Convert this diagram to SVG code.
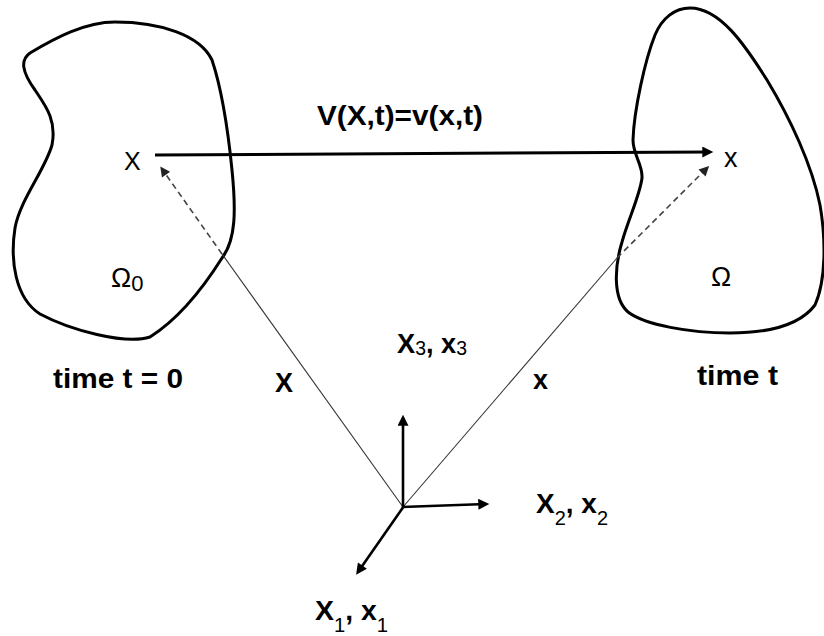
<svg xmlns="http://www.w3.org/2000/svg" width="824" height="636" viewBox="0 0 824 636">
<style>
.blob{fill:none;stroke:#000;stroke-width:3;stroke-linejoin:round}
.thin{fill:none;stroke:#333;stroke-width:1.1}
.dash{fill:none;stroke:#444;stroke-width:1.6;stroke-dasharray:6 4}
.axis{fill:none;stroke:#000;stroke-width:2.6}
.main{fill:none;stroke:#000;stroke-width:3}
.t{font-family:"Liberation Sans",Arial,sans-serif;fill:#000}
.b{font-weight:bold}
</style>
<defs>
<marker id="ah" viewBox="0 0 10 10" refX="7" refY="5" markerWidth="13" markerHeight="11" markerUnits="userSpaceOnUse" orient="auto">
<path d="M0,0 L10,5 L0,10 z" fill="#000"/>
</marker>
<marker id="ahd" viewBox="0 0 10 10" refX="7" refY="5" markerWidth="12" markerHeight="10" markerUnits="userSpaceOnUse" orient="auto">
<path d="M0,0 L10,5 L0,10 z" fill="#222"/>
</marker>
</defs>
<rect width="824" height="636" fill="#fff"/>

<g id="body0">
<path class="blob" d="M30,53 C55,38 85,22 115,22 C160,22 200,35 212,60 C222,90 228,130 232,170 C236,210 236,240 222,258 C205,285 180,318 150,337 C125,345 70,330 40,314 C15,298 10,260 15,228 C20,200 45,170 52,145 C57,120 45,105 35,90 C22,72 20,60 30,53 Z"/>
<text class="t" x="111" y="287" font-size="27">Ω<tspan font-size="22" dy="4">0</tspan></text>
</g>

<g id="body1">
<path class="blob" d="M690,8 C720,8 745,45 767,80 C790,118 812,165 820,205 C826,240 826,280 815,305 C800,325 770,333 730,333 C690,333 645,325 628,312 C612,298 615,265 622,242 C628,220 640,195 642,178 C643,165 633,155 633,140 C634,110 645,60 655,35 C662,18 675,8 690,8 Z"/>
<text class="t" x="711" y="286" font-size="27">Ω</text>
</g>

<g id="connectors">
<line class="main" x1="155" y1="155" x2="710" y2="152" marker-end="url(#ah)"/>
<line class="thin" x1="403" y1="507" x2="222" y2="254"/>
<line class="dash" x1="222" y1="254" x2="162" y2="169" marker-end="url(#ahd)"/>
<line class="thin" x1="403" y1="507" x2="617" y2="258"/>
<line class="dash" x1="617" y1="258" x2="707" y2="168" marker-end="url(#ahd)"/>
<line class="axis" x1="403" y1="508" x2="403" y2="418" marker-end="url(#ah)"/>
<line class="axis" x1="402" y1="507" x2="486" y2="504" marker-end="url(#ah)"/>
<line class="axis" x1="404" y1="506" x2="358" y2="572" marker-end="url(#ah)"/>
</g>

<g id="labels">
<text class="t" x="124" y="170" font-size="25">X</text>
<text class="t" x="724" y="167" font-size="27">x</text>
<text class="t b" x="317" y="125" font-size="28" textLength="166" lengthAdjust="spacingAndGlyphs">V(X,t)=v(x,t)</text>
<text class="t b" x="53" y="388" font-size="28" textLength="130" lengthAdjust="spacingAndGlyphs">time t = 0</text>
<text class="t b" x="697" y="385" font-size="28" textLength="81" lengthAdjust="spacingAndGlyphs">time t</text>
<text class="t b" x="275" y="392" font-size="27">X</text>
<text class="t b" x="533" y="389" font-size="27">x</text>
<text class="t" x="397" y="353" textLength="70" lengthAdjust="spacingAndGlyphs"><tspan class="b" font-size="28">X</tspan><tspan font-size="20" dy="2">3</tspan><tspan class="b" font-size="28" dy="-2">, x</tspan><tspan font-size="20" dy="2">3</tspan></text>
<text class="t" x="536" y="513" textLength="72" lengthAdjust="spacingAndGlyphs"><tspan class="b" font-size="28">X</tspan><tspan font-size="20" dy="12">2</tspan><tspan class="b" font-size="28" dy="-12">, x</tspan><tspan font-size="20" dy="12">2</tspan></text>
<text class="t" x="315" y="620" textLength="73" lengthAdjust="spacingAndGlyphs"><tspan class="b" font-size="28">X</tspan><tspan font-size="20" dy="12">1</tspan><tspan class="b" font-size="28" dy="-12">, x</tspan><tspan font-size="20" dy="12">1</tspan></text>
</g>
</svg>
